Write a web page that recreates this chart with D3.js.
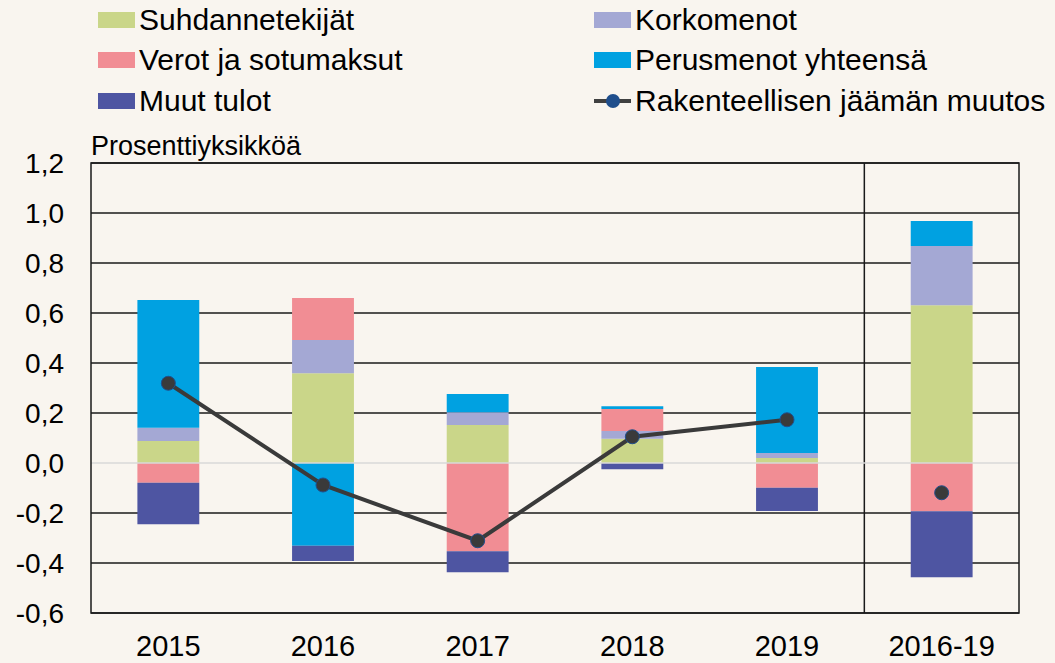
<!DOCTYPE html>
<html>
<head>
<meta charset="utf-8">
<script src="https://cdn.jsdelivr.net/npm/d3@7"></script>
<style>
  html, body { margin: 0; padding: 0; background: #f9f5ef; }
  svg { display: block; }
  text { font-family: "Liberation Sans", Arial, sans-serif; fill: #000; }
</style>
</head>
<body>
<svg id="chart" width="1055" height="663"></svg>
<script>
const categories = ["2015", "2016", "2017", "2018", "2019", "2016-19"];
const suhdannetekijat = [0.088, 0.359, 0.152, 0.097, 0.020, 0.631];
const korkomenot      = [0.053, 0.133, 0.051, 0.031, 0.020, 0.237];
const verot           = [-0.079, 0.168, -0.353, 0.088, -0.099, -0.193];
const perusmenot      = [0.511, -0.331, 0.073, 0.011, 0.344, 0.100];
const muutTulot       = [-0.166, -0.061, -0.084, -0.025, -0.093, -0.264];
const rakenteellinen  = [0.319, -0.088, -0.311, 0.105, 0.173, -0.119];
const yTicks = [-0.6, -0.4, -0.2, 0.0, 0.2, 0.4, 0.6, 0.8, 1.0, 1.2];

const seriesKeys = ["Suhdannetekijät", "Korkomenot", "Verot ja sotumaksut", "Perusmenot yhteensä", "Muut tulot"];
const seriesValues = [suhdannetekijat, korkomenot, verot, perusmenot, muutTulot];
const colors = {
  "Suhdannetekijät": "#cad689",
  "Korkomenot": "#a4a8d4",
  "Verot ja sotumaksut": "#f18d94",
  "Perusmenot yhteensä": "#00a1e1",
  "Muut tulot": "#4e55a2"
};

const rows = categories.map((c, i) => {
  const r = { cat: c };
  seriesKeys.forEach((k, j) => r[k] = seriesValues[j][i]);
  return r;
});

const svg = d3.select("#chart");
const pLeft = 91, pRight = 1019, pTop = 163, pBottom = 613;

const x = d3.scaleBand().domain(categories).range([pLeft, pRight]).padding(0);
const y = d3.scaleLinear().domain([-0.6, 1.2]).range([pBottom, pTop]);
const barW = x.bandwidth() * 0.4;

// gridlines
svg.append("g").selectAll("line").data(yTicks.filter(t => t !== 0)).join("line")
  .attr("x1", pLeft).attr("x2", pRight)
  .attr("y1", d => y(d)).attr("y2", d => y(d))
  .attr("stroke", "#1a1a1a").attr("stroke-width", 1.5);

// separator line
svg.append("line")
  .attr("x1", x("2016-19")).attr("x2", x("2016-19"))
  .attr("y1", pTop).attr("y2", pBottom)
  .attr("stroke", "#1a1a1a").attr("stroke-width", 1.5);

// stacked bars
const stack = d3.stack().keys(seriesKeys).offset(d3.stackOffsetDiverging);
const stacked = stack(rows);
svg.append("g").selectAll("g").data(stacked).join("g")
  .attr("fill", d => colors[d.key])
  .selectAll("rect").data(d => d).join("rect")
  .attr("x", d => x(d.data.cat) + (x.bandwidth() - barW) / 2)
  .attr("width", barW)
  .attr("y", d => y(Math.max(d[0], d[1])))
  .attr("height", d => Math.abs(y(d[0]) - y(d[1])));

// zero line
svg.append("line")
  .attr("x1", pLeft).attr("x2", pRight)
  .attr("y1", y(0)).attr("y2", y(0))
  .attr("stroke", "#d9d9d9").attr("stroke-width", 1.5);

// frame
svg.append("rect")
  .attr("x", pLeft).attr("y", pTop).attr("width", pRight - pLeft).attr("height", pBottom - pTop)
  .attr("fill", "none").attr("stroke", "#1a1a1a").attr("stroke-width", 1.5);

// line series (years only)
const lineCats = categories.slice(0, 5);
const line = d3.line().x((d, i) => x(lineCats[i]) + x.bandwidth() / 2).y(d => y(d));
svg.append("path")
  .datum(rakenteellinen.slice(0, 5))
  .attr("d", line)
  .attr("fill", "none").attr("stroke", "#3a3a3a").attr("stroke-width", 4);

svg.append("g").selectAll("circle").data(rakenteellinen).join("circle")
  .attr("cx", (d, i) => x(categories[i]) + x.bandwidth() / 2)
  .attr("cy", d => y(d))
  .attr("r", 7)
  .attr("fill", "#3a3a3a").attr("stroke", "#1f4e8c").attr("stroke-width", 1);

// y axis labels
svg.append("g").selectAll("text").data(yTicks).join("text")
  .attr("x", 64).attr("y", d => y(d))
  .attr("dy", "0.35em")
  .attr("text-anchor", "end")
  .attr("font-size", 28)
  .text(d => d3.format(".1f")(d).replace(".", ",").replace("−", "-"));

// x axis labels
svg.append("g").selectAll("text").data(categories).join("text")
  .attr("x", d => x(d) + x.bandwidth() / 2).attr("y", 656)
  .attr("text-anchor", "middle")
  .attr("font-size", 29)
  .text(d => d);

// unit label
svg.append("text").attr("x", 91).attr("y", 155).attr("font-size", 27).text("Prosenttiyksikköä");

// legend
const legendItems = [
  { name: "Suhdannetekijät", col: 0, row: 0 },
  { name: "Verot ja sotumaksut", col: 0, row: 1 },
  { name: "Muut tulot", col: 0, row: 2 },
  { name: "Korkomenot", col: 1, row: 0 },
  { name: "Perusmenot yhteensä", col: 1, row: 1 },
  { name: "Rakenteellisen jäämän muutos", col: 1, row: 2, line: true }
];
const colX = [98, 594];
const rowY = [20, 60, 101];
const lg = svg.append("g");
legendItems.forEach(it => {
  const x0 = colX[it.col], cy = rowY[it.row];
  if (it.line) {
    lg.append("line").attr("x1", x0).attr("x2", x0 + 37).attr("y1", cy).attr("y2", cy)
      .attr("stroke", "#404040").attr("stroke-width", 4);
    lg.append("circle").attr("cx", x0 + 19).attr("cy", cy).attr("r", 7)
      .attr("fill", "#1f4e8c");
  } else {
    lg.append("rect").attr("x", x0).attr("y", cy - 8).attr("width", 37).attr("height", 16)
      .attr("fill", colors[it.name]);
  }
  lg.append("text").attr("x", x0 + 41).attr("y", cy + 10).attr("font-size", 30).text(it.name);
});
</script>
</body>
</html>
